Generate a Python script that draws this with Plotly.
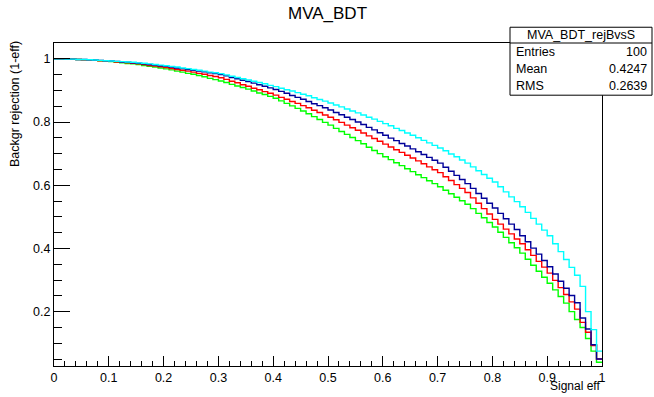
import plotly.graph_objects as go

# ---- data ----
bin_edges_lo = 0.0
bin_edges_hi = 1.0
n_bins = 100

cyan_vals = [
    1.000, 1.000, 0.999, 0.999, 0.998, 0.998, 0.997, 0.996, 0.995, 0.994,
    0.993, 0.992, 0.991, 0.990, 0.989, 0.987, 0.986, 0.984, 0.982, 0.980,
    0.978, 0.976, 0.974, 0.971, 0.969, 0.966, 0.964, 0.961, 0.958, 0.956,
    0.953, 0.949, 0.945, 0.941, 0.937, 0.933, 0.929, 0.925, 0.921, 0.916,
    0.912, 0.907, 0.902, 0.898, 0.893, 0.888, 0.883, 0.877, 0.871, 0.866,
    0.860, 0.854, 0.848, 0.841, 0.835, 0.829, 0.822, 0.815, 0.809, 0.802,
    0.795, 0.788, 0.780, 0.773, 0.765, 0.758, 0.750, 0.742, 0.734, 0.726,
    0.718, 0.709, 0.699, 0.690, 0.680, 0.670, 0.658, 0.646, 0.634, 0.622,
    0.610, 0.595, 0.579, 0.563, 0.548, 0.532, 0.514, 0.495, 0.477, 0.458,
    0.440, 0.415, 0.390, 0.365, 0.340, 0.315, 0.280, 0.200, 0.143, 0.075,
]

blue_vals = [
    1.000, 1.000, 0.999, 0.999, 0.998, 0.998, 0.997, 0.996, 0.995, 0.994,
    0.993, 0.992, 0.990, 0.989, 0.987, 0.986, 0.984, 0.982, 0.980, 0.978,
    0.976, 0.974, 0.971, 0.969, 0.966, 0.964, 0.961, 0.959, 0.956, 0.953,
    0.950, 0.946, 0.941, 0.937, 0.932, 0.928, 0.923, 0.918, 0.913, 0.908,
    0.903, 0.897, 0.891, 0.884, 0.878, 0.872, 0.865, 0.858, 0.852, 0.845,
    0.838, 0.830, 0.823, 0.815, 0.808, 0.800, 0.792, 0.783, 0.775, 0.766,
    0.758, 0.749, 0.741, 0.732, 0.724, 0.715, 0.706, 0.697, 0.688, 0.679,
    0.670, 0.657, 0.644, 0.631, 0.618, 0.605, 0.590, 0.574, 0.559, 0.543,
    0.528, 0.511, 0.494, 0.477, 0.460, 0.440, 0.421, 0.401, 0.382, 0.362,
    0.342, 0.319, 0.296, 0.274, 0.251, 0.228, 0.180, 0.145, 0.095, 0.050,
]

red_vals = [
    1.000, 1.000, 0.999, 0.999, 0.998, 0.997, 0.996, 0.995, 0.994, 0.993,
    0.992, 0.990, 0.989, 0.987, 0.986, 0.984, 0.982, 0.979, 0.977, 0.975,
    0.972, 0.969, 0.966, 0.964, 0.961, 0.958, 0.954, 0.951, 0.947, 0.944,
    0.940, 0.935, 0.929, 0.924, 0.918, 0.913, 0.907, 0.902, 0.896, 0.891,
    0.885, 0.878, 0.872, 0.865, 0.859, 0.852, 0.845, 0.837, 0.830, 0.822,
    0.815, 0.807, 0.799, 0.790, 0.782, 0.774, 0.765, 0.756, 0.748, 0.739,
    0.730, 0.721, 0.712, 0.704, 0.695, 0.686, 0.677, 0.668, 0.658, 0.649,
    0.640, 0.627, 0.615, 0.602, 0.590, 0.577, 0.560, 0.543, 0.526, 0.509,
    0.492, 0.477, 0.461, 0.446, 0.430, 0.415, 0.396, 0.378, 0.359, 0.341,
    0.322, 0.299, 0.276, 0.254, 0.231, 0.208, 0.166, 0.135, 0.093, 0.050,
]

green_vals = [
    1.000, 1.000, 0.999, 0.999, 0.998, 0.997, 0.996, 0.995, 0.994, 0.993,
    0.991, 0.989, 0.987, 0.985, 0.984, 0.982, 0.979, 0.976, 0.974, 0.971,
    0.968, 0.965, 0.961, 0.958, 0.954, 0.951, 0.947, 0.943, 0.938, 0.934,
    0.930, 0.925, 0.919, 0.914, 0.909, 0.904, 0.898, 0.892, 0.887, 0.881,
    0.875, 0.867, 0.859, 0.851, 0.843, 0.835, 0.826, 0.817, 0.808, 0.799,
    0.790, 0.780, 0.770, 0.761, 0.751, 0.741, 0.731, 0.720, 0.710, 0.700,
    0.690, 0.681, 0.671, 0.662, 0.652, 0.643, 0.633, 0.624, 0.614, 0.605,
    0.595, 0.584, 0.573, 0.562, 0.551, 0.540, 0.526, 0.511, 0.497, 0.482,
    0.468, 0.451, 0.435, 0.418, 0.402, 0.385, 0.366, 0.347, 0.328, 0.309,
    0.290, 0.269, 0.248, 0.227, 0.200, 0.175, 0.150, 0.115, 0.075, 0.040,
]

x_tick_vals = [0, 0.1, 0.2, 0.3, 0.4, 0.5, 0.6, 0.7, 0.8, 0.9, 1.0]
x_tick_text = ["0", "0.1", "0.2", "0.3", "0.4", "0.5", "0.6", "0.7", "0.8", "0.9", "1"]
y_tick_vals = [0.2, 0.4, 0.6, 0.8, 1.0]
y_tick_text = ["0.2", "0.4", "0.6", "0.8", "1"]

stats_name = "MVA_BDT_rejBvsS"
stats_rows = [("Entries", "100"), ("Mean", "0.4247"), ("RMS", "0.2639")]

# ---- figure ----
W, H = 654, 397
L, R, T, B = 54, 602, 43, 371
FONT = "Liberation Sans, Arial, Helvetica, sans-serif"

edges = [bin_edges_lo + (bin_edges_hi - bin_edges_lo) * i / n_bins for i in range(n_bins + 1)]

fig = go.Figure()
series = [
    (green_vals, "#00ff00"),
    (red_vals, "#ff0000"),
    (blue_vals, "#000099"),
    (cyan_vals, "#00ffff"),
]
for vals, col in series:
    fig.add_trace(go.Scatter(
        x=edges, y=list(vals) + [vals[-1]],
        mode="lines", line=dict(color=col, width=1.4, shape="hv"),
        showlegend=False, hoverinfo="skip",
    ))

def px2x(px):
    return (px - L) / (R - L)

def py2y(py):
    return (B - py) / (B - T)

fig.update_layout(
    width=W, height=H,
    margin=dict(l=L, r=W - R, t=T, b=H - B, pad=0),
    paper_bgcolor="white", plot_bgcolor="white",
    font=dict(family=FONT, size=12, color="black"),
    showlegend=False,
    xaxis=dict(
        range=[0, 1], showgrid=False, zeroline=False,
        showline=True, linecolor="black", linewidth=1, mirror=True,
        ticks="inside", ticklen=10, tickcolor="black", tickwidth=1,
        tickvals=x_tick_vals, ticktext=x_tick_text,
        tickfont=dict(size=12.5, family=FONT),
        minor=dict(dtick=0.02, tick0=0, ticks="inside", ticklen=5, tickcolor="black", showgrid=False),
    ),
    yaxis=dict(
        range=[0.028, 1.05], showgrid=False, zeroline=False,
        showline=True, linecolor="black", linewidth=1, mirror=True,
        ticks="inside", ticklen=16, tickcolor="black", tickwidth=1,
        tickvals=y_tick_vals, ticktext=y_tick_text,
        tickfont=dict(size=12.5, family=FONT),
        minor=dict(dtick=0.05, tick0=0, ticks="inside", ticklen=8, tickcolor="black", showgrid=False),
    ),
)

annotations = [
    dict(text="MVA_BDT", xref="paper", yref="paper", x=px2x(327), y=py2y(13),
         xanchor="center", yanchor="middle", showarrow=False,
         font=dict(size=17, family=FONT)),
    dict(text="Signal eff", xref="paper", yref="paper", x=px2x(602), y=py2y(391),
         xanchor="right", yanchor="middle", showarrow=False,
         font=dict(size=12, family=FONT)),
    dict(text="Backgr rejection (1-eff)", xref="paper", yref="paper", x=px2x(15), y=py2y(39),
         xanchor="center", yanchor="top", textangle=-90, showarrow=False,
         font=dict(size=12.5, family=FONT)),
]

# stats box
bx0, bx1, by0, by1, bdiv = 510, 652, 27, 96, 43
shapes = [
    dict(type="rect", xref="paper", yref="paper", x0=px2x(bx0), x1=px2x(bx1),
         y0=py2y(by1), y1=py2y(by0), line=dict(color="black", width=1), fillcolor="white", layer="above"),
    dict(type="line", xref="paper", yref="paper", x0=px2x(bx0), x1=px2x(bx1),
         y0=py2y(bdiv), y1=py2y(bdiv), line=dict(color="black", width=1), layer="above"),
]
annotations.append(dict(text=stats_name, xref="paper", yref="paper",
                        x=px2x((bx0 + bx1) / 2), y=py2y((by0 + bdiv) / 2),
                        xanchor="center", yanchor="middle", showarrow=False,
                        font=dict(size=12.5, family=FONT)))
row_h = (by1 - bdiv) / len(stats_rows)
for k, (lab, val) in enumerate(stats_rows):
    yc = bdiv + row_h * (k + 0.5)
    annotations.append(dict(text=lab, xref="paper", yref="paper", x=px2x(bx0 + 4), y=py2y(yc),
                            xanchor="left", yanchor="middle", showarrow=False,
                            font=dict(size=12.5, family=FONT)))
    annotations.append(dict(text=val, xref="paper", yref="paper", x=px2x(bx1 - 3), y=py2y(yc),
                            xanchor="right", yanchor="middle", showarrow=False,
                            font=dict(size=12.5, family=FONT)))

fig.update_layout(annotations=annotations, shapes=shapes)
fig.write_html("out.html", config={"displayModeBar": False},
               post_script="document.body.style.margin='0px';")
